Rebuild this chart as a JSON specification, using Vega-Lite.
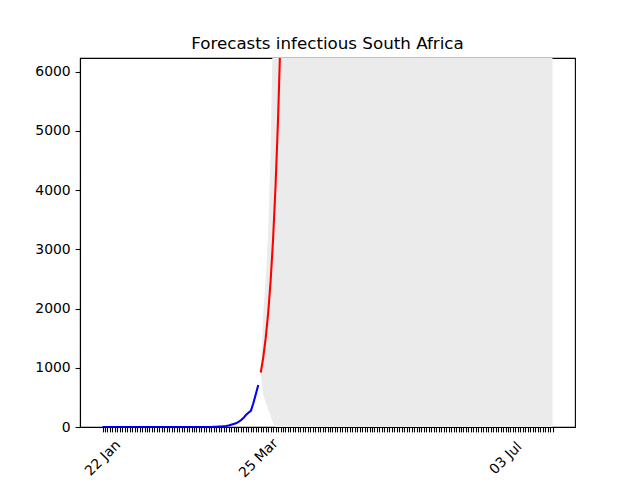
{
  "$schema": "https://vega.github.io/schema/vega-lite/v6.json",
  "autosize": "none",
  "width": 495,
  "height": 369,
  "padding": {"left": 80, "top": 58, "right": 65, "bottom": 53},
  "background": "white",
  "config": {
    "font": "DejaVu Sans",
    "view": {"stroke": "black", "strokeWidth": 1.1},
    "axis": {"grid": false, "domainColor": "black", "domainWidth": 1.1, "tickColor": "black", "tickWidth": 1.1, "tickSize": 4.9, "labelColor": "black", "labelFontSize": 13.9, "labelFont": "DejaVu Sans", "titleFontSize": 13.9}
  },
  "title": {"text": "Forecasts infectious South Africa", "fontSize": 16.7, "fontWeight": "normal", "font": "DejaVu Sans", "color": "black", "offset": 5},
  "datasets": {
    "observed": [
      {"date": "2020-01-22", "value": 0}, {"date": "2020-01-23", "value": 0}, {"date": "2020-01-24", "value": 0}, {"date": "2020-01-25", "value": 0}, {"date": "2020-01-26", "value": 0}, {"date": "2020-01-27", "value": 0}, {"date": "2020-01-28", "value": 0}, {"date": "2020-01-29", "value": 0}, {"date": "2020-01-30", "value": 0}, {"date": "2020-01-31", "value": 0},
      {"date": "2020-02-01", "value": 0}, {"date": "2020-02-02", "value": 0}, {"date": "2020-02-03", "value": 0}, {"date": "2020-02-04", "value": 0}, {"date": "2020-02-05", "value": 0}, {"date": "2020-02-06", "value": 0}, {"date": "2020-02-07", "value": 0}, {"date": "2020-02-08", "value": 0}, {"date": "2020-02-09", "value": 0}, {"date": "2020-02-10", "value": 0},
      {"date": "2020-02-11", "value": 0}, {"date": "2020-02-12", "value": 0}, {"date": "2020-02-13", "value": 0}, {"date": "2020-02-14", "value": 0}, {"date": "2020-02-15", "value": 0}, {"date": "2020-02-16", "value": 0}, {"date": "2020-02-17", "value": 0}, {"date": "2020-02-18", "value": 0}, {"date": "2020-02-19", "value": 0}, {"date": "2020-02-20", "value": 0},
      {"date": "2020-02-21", "value": 0}, {"date": "2020-02-22", "value": 0}, {"date": "2020-02-23", "value": 0}, {"date": "2020-02-24", "value": 0}, {"date": "2020-02-25", "value": 0}, {"date": "2020-02-26", "value": 0}, {"date": "2020-02-27", "value": 0}, {"date": "2020-02-28", "value": 0}, {"date": "2020-02-29", "value": 0},
      {"date": "2020-03-01", "value": 0}, {"date": "2020-03-02", "value": 0}, {"date": "2020-03-03", "value": 0}, {"date": "2020-03-04", "value": 0},
      {"date": "2020-03-05", "value": 1}, {"date": "2020-03-06", "value": 1}, {"date": "2020-03-07", "value": 2}, {"date": "2020-03-08", "value": 3}, {"date": "2020-03-09", "value": 7}, {"date": "2020-03-10", "value": 7}, {"date": "2020-03-11", "value": 13}, {"date": "2020-03-12", "value": 17}, {"date": "2020-03-13", "value": 24}, {"date": "2020-03-14", "value": 38}, {"date": "2020-03-15", "value": 51}, {"date": "2020-03-16", "value": 62}, {"date": "2020-03-17", "value": 85}, {"date": "2020-03-18", "value": 116}, {"date": "2020-03-19", "value": 150}, {"date": "2020-03-20", "value": 202}, {"date": "2020-03-21", "value": 240}, {"date": "2020-03-22", "value": 274}, {"date": "2020-03-23", "value": 402}, {"date": "2020-03-24", "value": 554}, {"date": "2020-03-25", "value": 709}
    ],
    "forecast": [
      {"date": "2020-03-26", "value": 920}, {"date": "2020-03-27", "value": 1170}, {"date": "2020-03-28", "value": 1500}, {"date": "2020-03-29", "value": 1920}, {"date": "2020-03-30", "value": 2470}, {"date": "2020-03-31", "value": 3180}, {"date": "2020-04-01", "value": 4080}, {"date": "2020-04-02", "value": 5200}, {"date": "2020-04-03", "value": 6600}, {"date": "2020-04-04", "value": 8400}
    ],
    "band": [
      {"date": "2020-03-26", "lower": 920, "upper": 920}, {"date": "2020-03-27", "lower": 540, "upper": 1900}, {"date": "2020-03-28", "lower": 420, "upper": 2500}, {"date": "2020-03-29", "lower": 300, "upper": 3300}, {"date": "2020-03-30", "lower": 190, "upper": 4680}, {"date": "2020-03-31", "lower": 60, "upper": 7000}, {"date": "2020-04-01", "lower": 0, "upper": 10000}, {"date": "2020-04-02", "lower": 0, "upper": 14000}, {"date": "2020-04-15", "lower": 0, "upper": 200000}, {"date": "2020-05-15", "lower": 0, "upper": 1000000}, {"date": "2020-06-15", "lower": 0, "upper": 1000000}, {"date": "2020-07-22", "lower": 0, "upper": 1000000}
    ]
  },
  "encoding": {
    "x": {
      "field": "date", "type": "temporal",
      "scale": {"type": "utc", "domain": [{"year": 2020, "month": 1, "date": 12, "hours": 21, "minutes": 36, "utc": true}, {"year": 2020, "month": 7, "date": 31, "hours": 2, "minutes": 24, "utc": true}], "nice": false},
      "axis": {
        "title": null,
        "values": [1579651200000,1579737600000,1579824000000,1579910400000,1579996800000,1580083200000,1580169600000,1580256000000,1580342400000,1580428800000,1580515200000,1580601600000,1580688000000,1580774400000,1580860800000,1580947200000,1581033600000,1581120000000,1581206400000,1581292800000,1581379200000,1581465600000,1581552000000,1581638400000,1581724800000,1581811200000,1581897600000,1581984000000,1582070400000,1582156800000,1582243200000,1582329600000,1582416000000,1582502400000,1582588800000,1582675200000,1582761600000,1582848000000,1582934400000,1583020800000,1583107200000,1583193600000,1583280000000,1583366400000,1583452800000,1583539200000,1583625600000,1583712000000,1583798400000,1583884800000,1583971200000,1584057600000,1584144000000,1584230400000,1584316800000,1584403200000,1584489600000,1584576000000,1584662400000,1584748800000,1584835200000,1584921600000,1585008000000,1585094400000,1585180800000,1585267200000,1585353600000,1585440000000,1585526400000,1585612800000,1585699200000,1585785600000,1585872000000,1585958400000,1586044800000,1586131200000,1586217600000,1586304000000,1586390400000,1586476800000,1586563200000,1586649600000,1586736000000,1586822400000,1586908800000,1586995200000,1587081600000,1587168000000,1587254400000,1587340800000,1587427200000,1587513600000,1587600000000,1587686400000,1587772800000,1587859200000,1587945600000,1588032000000,1588118400000,1588204800000,1588291200000,1588377600000,1588464000000,1588550400000,1588636800000,1588723200000,1588809600000,1588896000000,1588982400000,1589068800000,1589155200000,1589241600000,1589328000000,1589414400000,1589500800000,1589587200000,1589673600000,1589760000000,1589846400000,1589932800000,1590019200000,1590105600000,1590192000000,1590278400000,1590364800000,1590451200000,1590537600000,1590624000000,1590710400000,1590796800000,1590883200000,1590969600000,1591056000000,1591142400000,1591228800000,1591315200000,1591401600000,1591488000000,1591574400000,1591660800000,1591747200000,1591833600000,1591920000000,1592006400000,1592092800000,1592179200000,1592265600000,1592352000000,1592438400000,1592524800000,1592611200000,1592697600000,1592784000000,1592870400000,1592956800000,1593043200000,1593129600000,1593216000000,1593302400000,1593388800000,1593475200000,1593561600000,1593648000000,1593734400000,1593820800000,1593907200000,1593993600000,1594080000000,1594166400000,1594252800000,1594339200000,1594425600000,1594512000000,1594598400000,1594684800000,1594771200000,1594857600000,1594944000000,1595030400000,1595116800000,1595203200000,1595289600000,1595376000000],
        "labelExpr": "indexof(['22 Jan','25 Mar','03 Jul'], utcFormat(datum.value, '%d %b')) >= 0 ? utcFormat(datum.value, '%d %b') : ''",
        "labelAngle": -45, "labelAlign": "center", "labelBaseline": "middle", "labelPadding": 26,
        "labelOverlap": false, "labelBound": false, "labelFlush": false
      }
    }
  },
  "layer": [
    {
      "data": {"name": "band"},
      "mark": {"type": "area", "color": "#ebebeb", "opacity": 1, "clip": true},
      "encoding": {
        "y": {"field": "lower", "type": "quantitative", "scale": {"domain": [0, 6233], "nice": false, "zero": false},
              "axis": {"title": null, "values": [0, 1000, 2000, 3000, 4000, 5000, 6000], "format": "d", "labelPadding": 4.9}},
        "y2": {"field": "upper"}
      }
    },
    {
      "data": {"name": "forecast"},
      "mark": {"type": "line", "color": "#ff0000", "strokeWidth": 2.08, "clip": true},
      "encoding": {"y": {"field": "value", "type": "quantitative"}}
    },
    {
      "data": {"name": "observed"},
      "mark": {"type": "line", "color": "#0000ff", "strokeWidth": 2.08, "clip": true},
      "encoding": {"y": {"field": "value", "type": "quantitative"}}
    }
  ]
}
